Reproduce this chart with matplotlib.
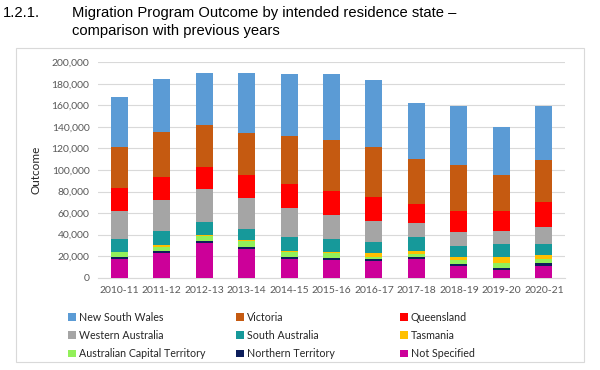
import matplotlib.pyplot as plt
import matplotlib.patches as mpatches
import numpy as np

years = ['2010-11', '2011-12', '2012-13', '2013-14', '2014-15', '2015-16',
         '2016-17', '2017-18', '2018-19', '2019-20', '2020-21']

# stacked from the bottom up
not_specified = [17000, 23200, 32500, 26900, 17000, 16700, 15200, 17000, 11100, 7100, 11100]
northern_territory = [2200, 1600, 1900, 1900, 1900, 1900, 1800, 2500, 1900, 2200, 2200]
act = [4300, 4000, 4600, 4900, 4600, 4400, 2500, 2500, 3100, 4600, 4000]
tasmania = [800, 1200, 1000, 1300, 1500, 1000, 3100, 2800, 3100, 5300, 4100]
south_australia = [11600, 13300, 11700, 10200, 13100, 11600, 10800, 12700, 10500, 12400, 9900]
western_australia = [25700, 28800, 30300, 29100, 26600, 22600, 19200, 13600, 12400, 11500, 16100]
queensland = [22000, 21700, 21100, 20700, 22300, 22000, 22300, 17300, 20100, 18500, 23200]
victoria = [37800, 41800, 38700, 39700, 44900, 47400, 46800, 41500, 42400, 34100, 38700]
nsw = [46700, 49200, 48000, 55100, 57000, 61900, 61600, 52000, 55200, 43900, 50500]

series = [
    ('Not Specified', not_specified, '#CC0099'),
    ('Northern Territory', northern_territory, '#0C1E5B'),
    ('Australian Capital Territory', act, '#92F05A'),
    ('Tasmania', tasmania, '#FFC000'),
    ('South Australia', south_australia, '#16999A'),
    ('Western Australia', western_australia, '#A5A5A5'),
    ('Queensland', queensland, '#FF0000'),
    ('Victoria', victoria, '#C55A11'),
    ('New South Wales', nsw, '#5B9BD5'),
]

fig = plt.figure(figsize=(6, 3.7), dpi=100)

# chart frame
fig.patches.append(mpatches.Rectangle((0.027, 0.022), 0.946, 0.848, transform=fig.transFigure,
                                      fill=False, edgecolor='#D9D9D9', linewidth=0.8))

ax = fig.add_axes([0.163, 0.2495, 0.779, 0.582])
x = np.arange(len(years))
bottom = np.zeros(len(years))
handles = {}
for name, vals, col in series:
    b = ax.bar(x, vals, width=0.4, bottom=bottom, color=col, zorder=3)
    handles[name] = b
    bottom += np.array(vals)

ax.set_xlim(-0.5, len(years) - 0.5)
ax.set_ylim(0, 200000)
ax.set_yticks(np.arange(0, 200001, 20000))
ax.set_yticklabels([f'{v:,}' for v in range(0, 200001, 20000)])
ax.set_xticks(x)
ax.set_xticklabels(years)
ax.grid(axis='y', color='#D9D9D9', linewidth=0.8, zorder=0)
for s in ['top', 'right', 'left']:
    ax.spines[s].set_visible(False)
ax.spines['bottom'].set_color('#D9D9D9')
ax.tick_params(length=0, labelsize=7.5, labelcolor='#595959', pad=6)
for lab in ax.get_xticklabels() + ax.get_yticklabels():
    lab.set_fontfamily('Lato')
ax.set_ylabel('Outcome', fontsize=8.5, fontfamily='Lato', color='#262626', labelpad=7)

# legend in three columns
cols = [['New South Wales', 'Western Australia', 'Australian Capital Territory'],
        ['Victoria', 'South Australia', 'Northern Territory'],
        ['Queensland', 'Tasmania', 'Not Specified']]
col_x = [0.105, 0.385, 0.658]
for cx, names in zip(col_x, cols):
    fig.legend([handles[n] for n in names], names, loc='upper left',
               bbox_to_anchor=(cx, 0.172), frameon=False, ncol=1,
               prop={'family': 'Lato', 'size': 7.7}, handlelength=0.7,
               handleheight=0.7, handletextpad=0.3, labelspacing=0.68,
               borderpad=0, labelcolor='#262626')

fig.text(0.005, 0.965, '1.2.1.', fontsize=10.6, fontfamily='Liberation Sans', va='center')
fig.text(0.12, 0.965, 'Migration Program Outcome by intended residence state \u2013',
         fontsize=10.6, fontfamily='Liberation Sans', va='center')
fig.text(0.12, 0.915, 'comparison with previous years',
         fontsize=10.6, fontfamily='Liberation Sans', va='center')

fig.savefig('out.png', dpi=100)
